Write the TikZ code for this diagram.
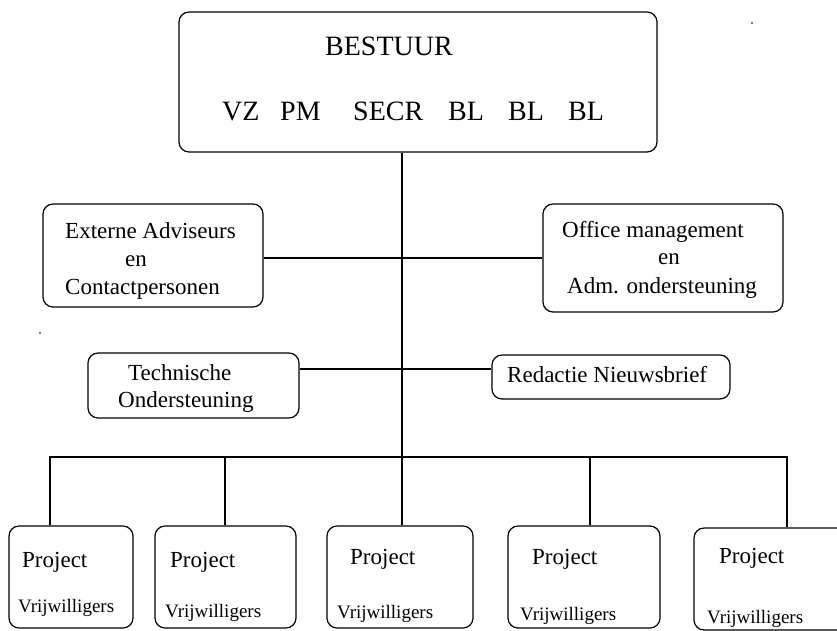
\documentclass[tikz,border=0pt]{standalone}
\usepackage{fontspec}
\setmainfont{Liberation Serif}
\tikzset{
  box/.style={draw, rounded corners=10pt, line width=1.2pt, inner sep=0pt},
  conn/.style={line width=1.2pt},
  bigtxt/.style={anchor=base west, inner sep=0pt, font=\fontsize{28}{30}\selectfont},
  midtxt/.style={anchor=base west, inner sep=0pt, font=\fontsize{23}{25}\selectfont},
  smalltxt/.style={anchor=base west, inner sep=0pt, font=\fontsize{19}{21}\selectfont},
}
\begin{document}
\begin{tikzpicture}[x=1pt, y=-1pt]
\useasboundingbox (0,0) rectangle (837,630);
\clip (0,0) rectangle (837,630);
% boxes
\node[box, minimum width=478pt, minimum height=140pt] (top) at (418,82) {};
\node[box, minimum width=220pt, minimum height=103pt] (ext) at (153,255.5) {};
\node[box, minimum width=240pt, minimum height=108pt] (off) at (663,258) {};
\node[box, minimum width=211pt, minimum height=65pt] (tech) at (193.5,385.5) {};
\node[box, minimum width=238pt, minimum height=44pt] (red) at (611,377) {};
\node[box, minimum width=124pt, minimum height=102pt] (p1) at (71,577) {};
\node[box, minimum width=141pt, minimum height=102pt] (p2) at (225.5,577) {};
\node[box, minimum width=146pt, minimum height=102pt] (p3) at (400,577) {};
\node[box, minimum width=152pt, minimum height=102pt] (p4) at (584,577) {};
\node[box, minimum width=166pt, minimum height=102pt] (p5) at (777,579) {};
% texts
\node[bigtxt] (t0) at (325,55) {BESTUUR};
\node[bigtxt] (t1) at (222,120) {VZ};
\node[bigtxt] (t2) at (280,120) {PM};
\node[bigtxt] (t3) at (353,120) {SECR};
\node[bigtxt] (t4) at (448,120) {BL};
\node[bigtxt] (t5) at (508,120) {BL};
\node[bigtxt] (t6) at (568,120) {BL};
\node[midtxt] (e1) at (65,238) {Externe Adviseurs};
\node[midtxt] (e2) at (125,266) {en};
\node[midtxt] (e3) at (65,294) {Contactpersonen};
\node[midtxt] (o1) at (562,237) {Office management};
\node[midtxt] (o2) at (658,264) {en};
\node[midtxt] (o3) at (567,293) {Adm. ondersteuning};
\node[midtxt] (te1) at (128,380) {Technische};
\node[midtxt] (te2) at (118,407) {Ondersteuning};
\node[midtxt] (r1) at (507,382) {Redactie Nieuwsbrief};
\foreach \i/\px/\py/\vx/\vy in {1/22/567/18/612, 2/170/567/165/617, 3/350/564/337/618, 4/532/564/520/620, 5/719/563/707/623} {
  \node[midtxt] (pp\i) at (\px,\py) {Project};
  \node[smalltxt] (pv\i) at (\vx,\vy) {Vrijwilligers};
}
% connector coordinates
\coordinate (el) at (402,258);
\coordinate (tl) at (402,369);
\coordinate (bm) at (402,457);
\coordinate (d1) at (50,457);
\coordinate (d2) at (225,457);
\coordinate (d4) at (590,457);
\coordinate (d5) at (787,457);
% connectors
\draw[conn] (top.south -| bm) -- (bm |- p3.north);
\draw[conn] (ext.east |- el) -- (off.west |- el);
\draw[conn] (tech.east |- tl) -- (red.west |- tl);
\draw[conn] (p1.north -| d1) -- (d1) -- (d5) -- (p5.north -| d5);
\draw[conn] (d2) -- (p2.north -| d2);
\draw[conn] (d4) -- (p4.north -| d4);
% stray dots
\fill (752,23) circle (0.8pt);
\fill (40,333) circle (0.8pt);
\end{tikzpicture}
\end{document}
